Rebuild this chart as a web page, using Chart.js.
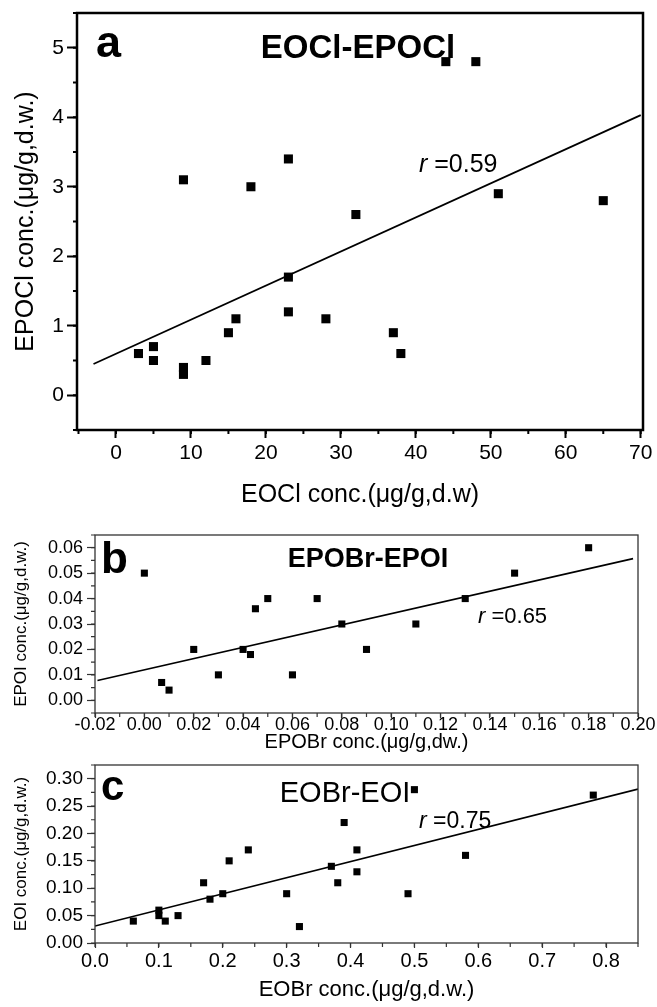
<!DOCTYPE html>
<html>
<head>
<meta charset="utf-8">
<title>EOX correlations</title>
<script src="https://cdn.jsdelivr.net/npm/chart.js"></script>
<style>
  body { margin: 0; background: #fff; }
  #wrap { position: relative; width: 657px; height: 1007px; background: #fff; }
  canvas { position: absolute; left: 0; }
</style>
</head>
<body>
<div id="wrap">
  <canvas id="js--chart--a" width="657" height="515" style="top:0px"></canvas>
  <canvas id="js--chart--b" width="657" height="237" style="top:520px"></canvas>
  <canvas id="js--chart--c" width="657" height="250" style="top:757px"></canvas>
</div>
<script>
const FONT = "'Liberation Sans', Arial, sans-serif";

// panel a: EOCl vs EPOCl
const eoclX = [3, 5, 5, 9, 9, 9, 12, 15, 16, 18, 23, 23, 23, 28, 32, 37, 38, 44, 48, 51, 65];
const epoclY = [0.6, 0.7, 0.5, 3.1, 0.4, 0.3, 0.5, 0.9, 1.1, 3.0, 3.4, 1.7, 1.2, 1.1, 2.6, 0.9, 0.6, 4.8, 4.8, 2.9, 2.8];
const fitAX = [-3, 70];
const fitAY = [0.45, 4.03];
const aXTicks = [0, 10, 20, 30, 40, 50, 60, 70];
const aYTicks = [0, 1, 2, 3, 4, 5];

// panel b: EPOBr vs EPOI
const epobrX = [0.0, 0.007, 0.01, 0.02, 0.03, 0.04, 0.043, 0.045, 0.05, 0.06, 0.07, 0.08, 0.09, 0.11, 0.13, 0.15, 0.18];
const epoiY = [0.05, 0.007, 0.004, 0.02, 0.01, 0.02, 0.018, 0.036, 0.04, 0.01, 0.04, 0.03, 0.02, 0.03, 0.04, 0.05, 0.06];
const fitBX = [-0.019, 0.198];
const fitBY = [0.0078, 0.0557];
const bXTicks = [-0.02, 0, 0.02, 0.04, 0.06, 0.08, 0.1, 0.12, 0.14, 0.16, 0.18, 0.2];
const bYTicks = [0, 0.01, 0.02, 0.03, 0.04, 0.05, 0.06];

// panel c: EOBr vs EOI
const eobrX = [0.06, 0.10, 0.10, 0.11, 0.13, 0.17, 0.18, 0.20, 0.21, 0.24, 0.30, 0.32, 0.37, 0.38, 0.39, 0.41, 0.41, 0.49, 0.50, 0.58, 0.78];
const eoiY = [0.04, 0.06, 0.05, 0.04, 0.05, 0.11, 0.08, 0.09, 0.15, 0.17, 0.09, 0.03, 0.14, 0.11, 0.22, 0.17, 0.13, 0.09, 0.28, 0.16, 0.27];
const fitCX = [0, 0.85];
const fitCY = [0.031, 0.281];
const cXTicks = [0, 0.1, 0.2, 0.3, 0.4, 0.5, 0.6, 0.7, 0.8];
const cYTicks = [0, 0.05, 0.1, 0.15, 0.2, 0.25, 0.3];

function toPoints(xs, ys) {
  return xs.map((x, i) => ({ x: x, y: ys[i] }));
}

// frame round the plot area
const boxPlugin = {
  id: "box",
  afterDraw(chart, args, opts) {
    const a = chart.chartArea;
    const ctx = chart.ctx;
    ctx.save();
    ctx.strokeStyle = opts.color;
    ctx.lineWidth = opts.width;
    ctx.strokeRect(a.left, a.top, a.right - a.left, a.bottom - a.top);
    ctx.restore();
  },
};

// short ticks between the labelled ones
const minorTicks = {
  id: "minorTicks",
  afterDraw(chart, args, opts) {
    const ctx = chart.ctx;
    const a = chart.chartArea;
    const sx = chart.scales.x;
    const sy = chart.scales.y;
    ctx.save();
    ctx.strokeStyle = opts.color;
    ctx.lineWidth = opts.width;
    ctx.beginPath();
    for (let i = Math.ceil(sx.min / opts.x - 1e-6); i * opts.x <= sx.max + 1e-9; i++) {
      const px = sx.getPixelForValue(i * opts.x);
      ctx.moveTo(px, a.bottom);
      ctx.lineTo(px, a.bottom + opts.len);
    }
    for (let i = Math.ceil(sy.min / opts.y - 1e-6); i * opts.y <= sy.max + 1e-9; i++) {
      const py = sy.getPixelForValue(i * opts.y);
      ctx.moveTo(a.left, py);
      ctx.lineTo(a.left - opts.len, py);
    }
    ctx.stroke();
    ctx.restore();
  },
};

// panel letters, titles and r values
const notes = {
  id: "notes",
  afterDraw(chart, args, opts) {
    const ctx = chart.ctx;
    ctx.save();
    ctx.fillStyle = "#000";
    ctx.textBaseline = "alphabetic";
    opts.items.forEach((t) => {
      let x = t.x;
      t.parts.forEach((p) => {
        ctx.font = p.font;
        ctx.textAlign = t.align || "left";
        ctx.fillText(p.text, x, t.y);
        x += ctx.measureText(p.text).width;
      });
    });
    ctx.restore();
  },
};

function axis(o) {
  return {
    type: "linear",
    min: o.min,
    max: o.max,
    afterBuildTicks(s) {
      s.ticks = o.ticks.map((v) => ({ value: v }));
    },
    afterFit(s) {
      if (s.isHorizontal()) s.height = o.size;
      else s.width = o.size;
      s.paddingTop = 0;
      s.paddingBottom = 0;
      s.paddingLeft = 0;
      s.paddingRight = 0;
    },
    border: { display: false },
    grid: {
      drawOnChartArea: false,
      drawTicks: true,
      tickLength: o.tick,
      tickWidth: o.tickWidth,
      tickColor: o.color,
    },
    ticks: {
      autoSkip: false,
      maxRotation: 0,
      padding: o.pad,
      color: "#000",
      font: { family: FONT, size: o.font },
      callback: (v) => Number(v).toFixed(o.dec),
    },
    title: {
      display: true,
      text: o.title,
      color: "#000",
      font: { family: FONT, size: o.titleSize },
      padding: o.titlePad,
    },
  };
}

function panel(o) {
  return {
    type: "scatter",
    data: {
      datasets: [
        {
          data: toPoints(o.xs, o.ys),
          pointStyle: "rect",
          pointRadius: o.radius,
          backgroundColor: "#000",
          borderWidth: 0,
        },
        {
          data: toPoints(o.fitX, o.fitY),
          showLine: true,
          pointRadius: 0,
          borderColor: "#000",
          borderWidth: o.lineWidth,
        },
      ],
    },
    options: {
      responsive: false,
      animation: false,
      events: [],
      layout: { padding: o.padding },
      scales: { x: o.x, y: o.y },
      plugins: {
        legend: { display: false },
        tooltip: { enabled: false },
        box: o.box,
        minorTicks: o.minor,
        notes: { items: o.notes },
      },
    },
    plugins: [boxPlugin, minorTicks, notes],
  };
}

const configA = panel({
  xs: eoclX, ys: epoclY, fitX: fitAX, fitY: fitAY,
  radius: 6.4, lineWidth: 1.8,
  padding: { top: 13, right: 14, left: 0, bottom: 0 },
  x: axis({ min: -5.2, max: 70.3, ticks: aXTicks, dec: 0, size: 85, tick: 8, tickWidth: 2, color: "#000", pad: 3, font: 21,
    title: "EOCl conc.(\u03bcg/g,d.w)", titleSize: 25, titlePad: { top: 0, bottom: 5 } }),
  y: axis({ min: -0.5, max: 5.5, ticks: aYTicks, dec: 0, size: 77, tick: 10, tickWidth: 2, color: "#000", pad: 3, font: 21,
    title: "EPOCl conc.(\u03bcg/g,d.w.)", titleSize: 25, titlePad: { top: 11, bottom: 0 } }),
  box: { color: "#000", width: 2.5 },
  minor: { x: 5, y: 0.5, len: 4, color: "#000", width: 2 },
  notes: [
    { x: 96, y: 57, parts: [{ text: "a", font: "bold 45px " + FONT }] },
    { x: 358, y: 58, align: "center", parts: [{ text: "EOCl-EPOCl", font: "bold 33px " + FONT }] },
    { x: 419, y: 172, parts: [{ text: "r", font: "italic 25px " + FONT }, { text: " =0.59", font: "25px " + FONT }] },
  ],
});

const configB = panel({
  xs: epobrX, ys: epoiY, fitX: fitBX, fitY: fitBY,
  radius: 5, lineWidth: 1.6,
  padding: { top: 15, right: 19, left: 0, bottom: 0 },
  x: axis({ min: -0.02, max: 0.2, ticks: bXTicks, dec: 2, size: 44, tick: 5, tickWidth: 1.2, color: "#333", pad: -4, font: 18,
    title: "EPOBr conc.(\u03bcg/g,dw.)", titleSize: 20, titlePad: { top: 0, bottom: 3 } }),
  y: axis({ min: -0.005, max: 0.065, ticks: bYTicks, dec: 2, size: 95, tick: 8, tickWidth: 1.2, color: "#333", pad: 4, font: 18,
    title: "EPOI conc.(\u03bcg/g,d.w.)", titleSize: 17, titlePad: { top: 10.8, bottom: 0 } }),
  box: { color: "#333", width: 1.3 },
  minor: { x: 0.01, y: 0.005, len: 4, color: "#333", width: 1.2 },
  notes: [
    { x: 101, y: 53, parts: [{ text: "b", font: "bold 44px " + FONT }] },
    { x: 368, y: 47, align: "center", parts: [{ text: "EPOBr-EPOI", font: "bold 27px " + FONT }] },
    { x: 478, y: 103, parts: [{ text: "r", font: "italic 22px " + FONT }, { text: " =0.65", font: "22px " + FONT }] },
  ],
});

const configC = panel({
  xs: eobrX, ys: eoiY, fitX: fitCX, fitY: fitCY,
  radius: 5, lineWidth: 1.6,
  padding: { top: 8, right: 19, left: 0, bottom: 0 },
  x: axis({ min: 0, max: 0.85, ticks: cXTicks, dec: 1, size: 64, tick: 5, tickWidth: 1.2, color: "#333", pad: 1, font: 20,
    title: "EOBr conc.(\u03bcg/g,d.w.)", titleSize: 22, titlePad: { top: 0, bottom: 3.8 } }),
  y: axis({ min: 0, max: 0.325, ticks: cYTicks, dec: 2, size: 95, tick: 8, tickWidth: 1.2, color: "#333", pad: 4, font: 19,
    title: "EOI conc.(\u03bcg/g,d.w.)", titleSize: 17, titlePad: { top: 10.8, bottom: 0 } }),
  box: { color: "#333", width: 1.3 },
  minor: { x: 0.05, y: 0.025, len: 4, color: "#333", width: 1.2 },
  notes: [
    { x: 101, y: 43, parts: [{ text: "c", font: "bold 42px " + FONT }] },
    { x: 345, y: 45, align: "center", parts: [{ text: "EOBr-EOI", font: "29px " + FONT }] },
    { x: 419, y: 71, parts: [{ text: "r", font: "italic 23px " + FONT }, { text: " =0.75", font: "23px " + FONT }] },
  ],
});

new Chart(document.getElementById("js--chart--a"), configA);
new Chart(document.getElementById("js--chart--b"), configB);
new Chart(document.getElementById("js--chart--c"), configC);
</script>
</body>
</html>
